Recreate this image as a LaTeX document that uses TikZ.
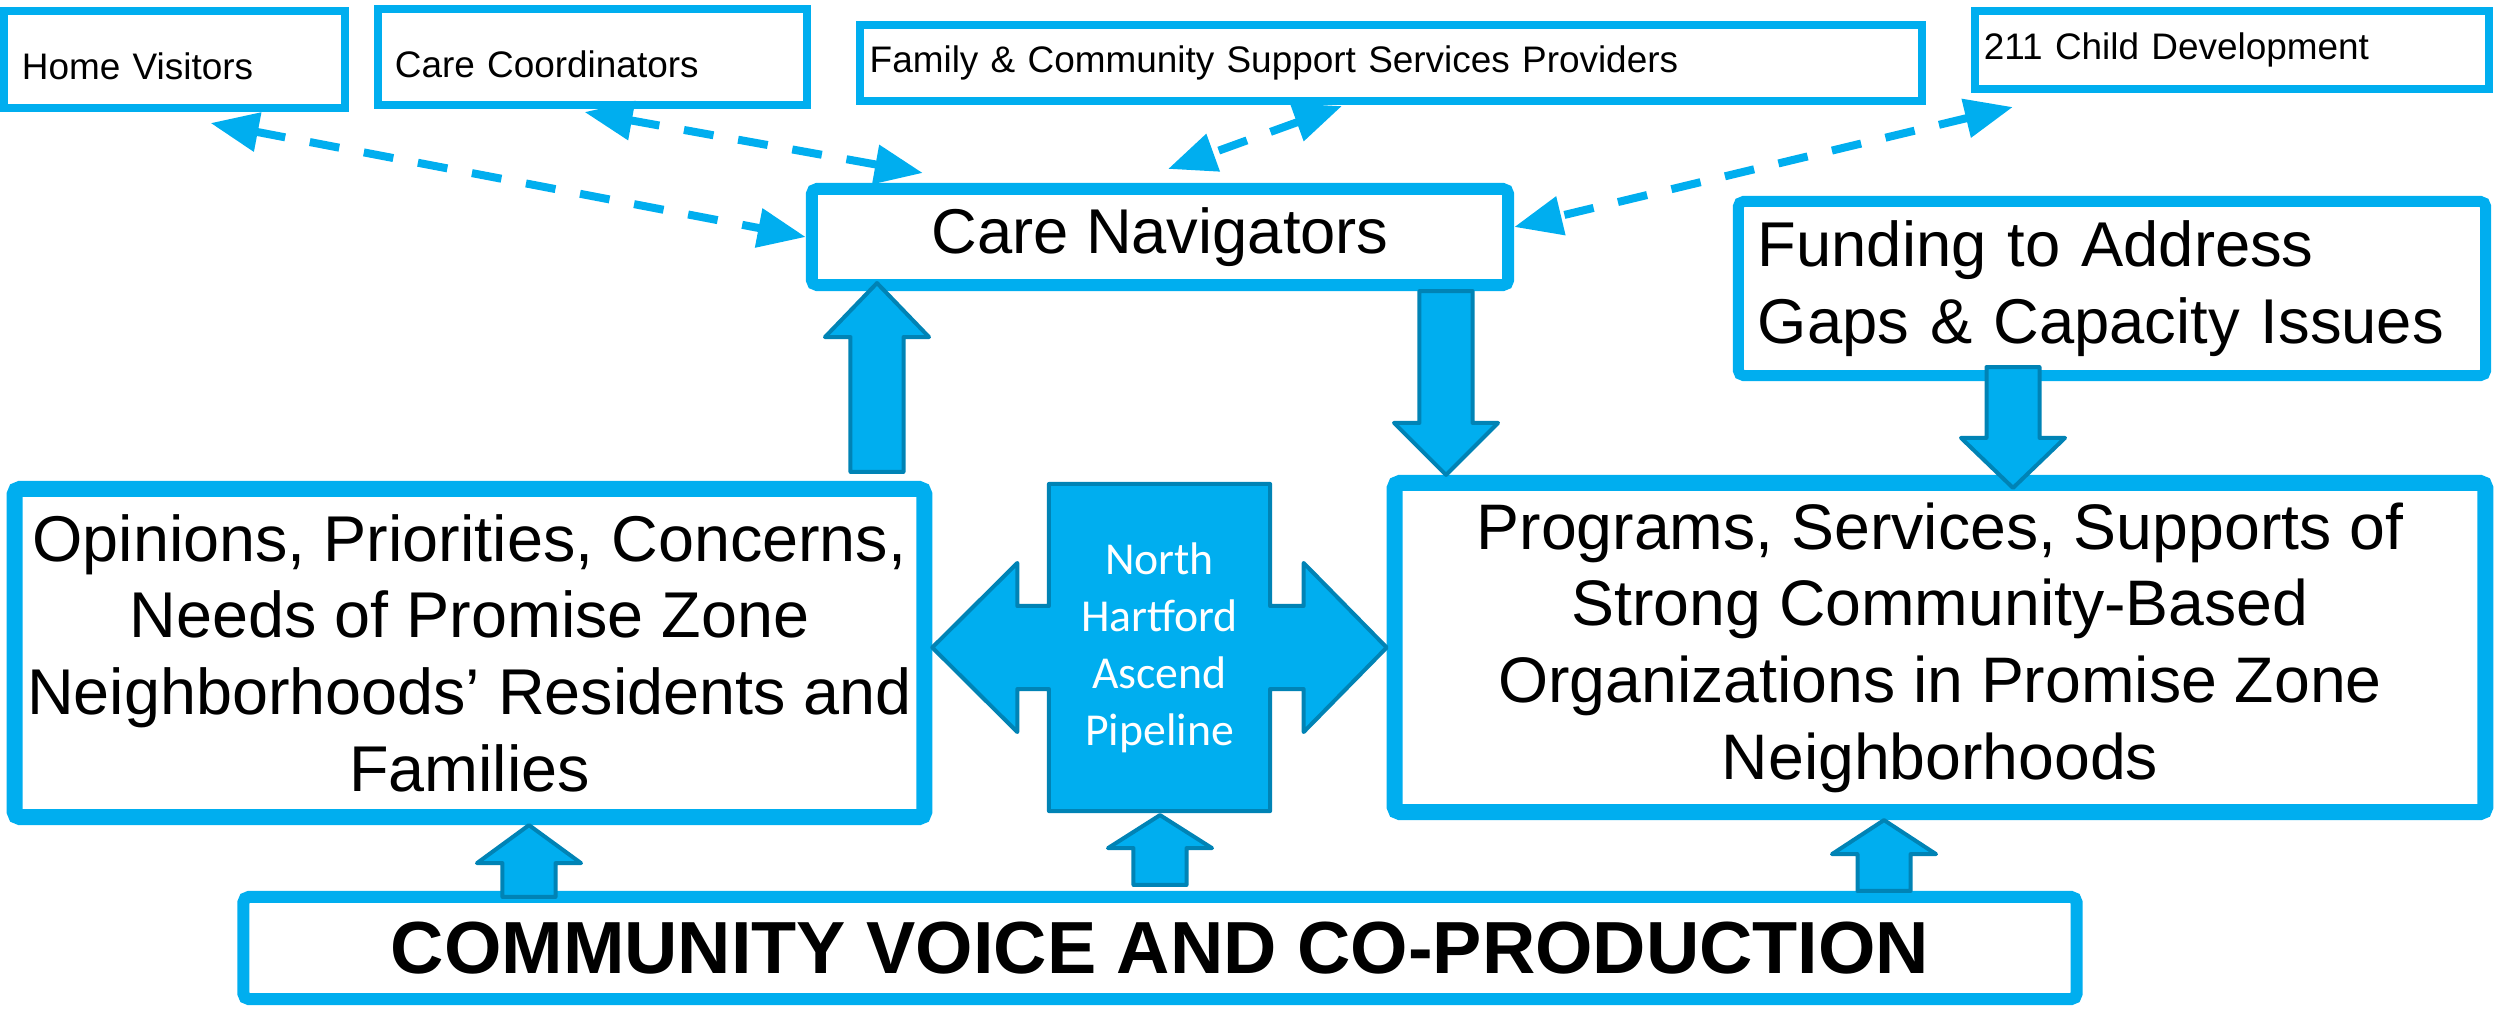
\documentclass[tikz,border=0pt]{standalone}
\usepackage{fontspec}
\setmainfont{Liberation Sans}
\newfontfamily\calibrifont{Carlito}
\usetikzlibrary{positioning,calc,arrows.meta}

\definecolor{boxblue}{HTML}{00AEEF}
\definecolor{edgeblue}{HTML}{0083B5}

\pgfdeclarelayer{front}
\pgfsetlayers{main,front}

\tikzset{
  smallbox/.style={draw=boxblue, line width=0.08cm, align=left, inner ysep=0pt,
    font=\fontsize{10.5}{12.6}\selectfont},
  bigbox/.style={draw=boxblue, line width=0.16cm, align=center, rounded corners=1.5pt,
    font=\fontsize{18}{21.8}\selectfont},
  pipeline/.style={minimum width=2.21cm, minimum height=3.27cm, inner sep=0pt, outer sep=0pt,
    text=white, align=center, font=\calibrifont\fontsize{13}{16.2}\selectfont},
  block/.style={fill=boxblue, draw=edgeblue, line width=0.04cm, line join=round},
  dasharrow/.style={draw=boxblue, line width=0.08cm, dash pattern=on 0.3cm off 0.25cm,
    {Triangle[length=0.48cm,width=0.38cm]}-{Triangle[length=0.48cm,width=0.38cm]}},
}

% vertical block arrow: column x, tail, tip, signed head length
\newcommand{\blockarrow}[4]{%
  \draw[block] let \p1=(#1,0), \p2=(#2), \p3=(#3) in
    (\x1-0.265cm,\y2) -- (\x1-0.265cm,\y3#4) -- (\x1-0.52cm,\y3#4) -- (\x1,\y3)
    -- (\x1+0.52cm,\y3#4) -- (\x1+0.265cm,\y3#4) -- (\x1+0.265cm,\y2) -- cycle;}

\begin{document}
\begin{tikzpicture}[x=0.01cm, y=-0.01cm]
\useasboundingbox (0,0) rectangle (2496,1008);

\node[smallbox, minimum width=3.41cm, minimum height=0.97cm, inner xsep=0.18cm,
    text width=3.05cm, text height=0.41cm] (hv) at (174.5,59.5) {Home Visitors};
\node[smallbox, minimum width=4.29cm, minimum height=0.96cm, inner xsep=0.17cm,
    text width=3.95cm, text height=0.42cm] (cc) at (592.5,57) {Care Coordinators};
\node[smallbox, minimum width=10.62cm, minimum height=0.76cm, inner xsep=0.10cm,
    text width=10.42cm] (fam) at (1391,63) {Family \& Community Support Services Providers};
\node[smallbox, minimum width=5.14cm, minimum height=0.78cm, inner xsep=0.09cm,
    text width=4.96cm] (cd) at (2232,50) {211 Child Development};

\node[bigbox, line width=0.12cm, minimum width=6.96cm, minimum height=0.96cm]
    (nav) at (1160,237) {Care Navigators};
\node[bigbox, line width=0.11cm, minimum width=7.47cm, minimum height=1.74cm,
    align=left, inner xsep=0.195cm, text width=7.08cm]
    (fund) at (2112,288.5) {Funding to Address\\Gaps \& Capacity Issues};

\node[bigbox, minimum width=9.09cm, minimum height=3.28cm, font=\fontsize{18.4}{21.8}\selectfont]
    (opin) at (469.5,653)
    {Opinions, Priorities, Concerns,\\Needs of Promise Zone\\Neighborhoods’ Residents and\\Families};
\node[bigbox, minimum width=10.90cm, minimum height=3.29cm, font=\fontsize{18.3}{21.8}\selectfont]
    (prog) at (1940,647.5)
    {Programs, Services, Supports of\\Strong Community-Based\\Organizations in Promise Zone\\Neighborhoods};

\node[bigbox, line width=0.12cm, minimum width=18.32cm, minimum height=1.02cm,
    font=\fontsize{21}{25}\selectfont\bfseries] (voice) at (1160,948)
    {COMMUNITY VOICE AND CO-PRODUCTION};

\begin{pgfonlayer}{front}
\node[pipeline] (pipe) at (1159.5,647.5) {North\\Hartford\\Ascend\\Pipeline};
\end{pgfonlayer}

% the cross
\draw[block] let \p1=(pipe.north west), \p2=(pipe.south east), \p3=(opin.east),
    \p4=(prog.west), \p5=(pipe.center) in
  (\x1,\y1) -- (\x2,\y1) -- (\x2,\y5+0.415cm) -- (\x4-0.83cm,\y5+0.415cm)
  -- (\x4-0.83cm,\y5+0.845cm) -- (\x4,\y5) -- (\x4-0.83cm,\y5-0.845cm)
  -- (\x4-0.83cm,\y5-0.415cm) -- (\x2,\y5-0.415cm) -- (\x2,\y2) -- (\x1,\y2)
  -- (\x1,\y5-0.415cm) -- (\x3+0.85cm,\y5-0.415cm) -- (\x3+0.85cm,\y5-0.845cm)
  -- (\x3,\y5) -- (\x3+0.85cm,\y5+0.845cm) -- (\x3+0.85cm,\y5+0.415cm)
  -- (\x1,\y5+0.415cm) -- cycle;

\draw[dasharrow] ([xshift=0.36cm,yshift=-0.11cm]hv.south) -- (nav.west);
\draw[dasharrow] ([xshift=-0.08cm,yshift=-0.03cm]cc.south) -- ([xshift=1.17cm,yshift=0.10cm]nav.north west);
\draw[dasharrow] ([xshift=-0.49cm,yshift=-0.01cm]fam.south) -- ([xshift=0.08cm,yshift=0.14cm]nav.north);
\draw[dasharrow] ([xshift=0.42cm,yshift=-0.14cm]cd.south west) -- ([yshift=0.10cm]nav.east);

\blockarrow{877}{$(opin.north)+(0,-9)$}{$(nav.south)+(0,-8)$}{-0.54cm}
\blockarrow{1446}{nav.south}{prog.north}{+0.52cm}
\blockarrow{2013}{$(fund.south)+(0,-14)$}{$(prog.north)+(0,13)$}{+0.50cm}
\blockarrow{529}{$(voice.north)+(0,6)$}{opin.south}{-0.38cm}
\blockarrow{1160}{$(voice.north)+(0,-6)$}{$(pipe.south)+(0,4)$}{-0.33cm}
\blockarrow{1884}{voice.north}{prog.south}{-0.34cm}
\end{tikzpicture}
\end{document}
